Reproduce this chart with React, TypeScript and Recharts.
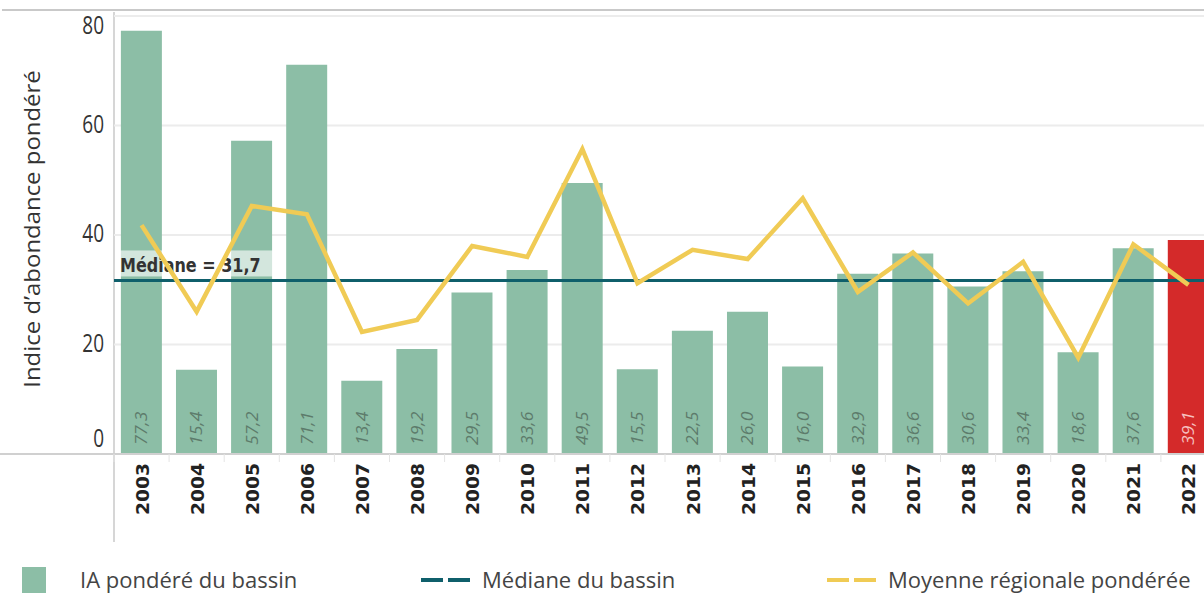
import React from 'react';
import {
  ComposedChart,
  Bar,
  Line,
  Cell,
  XAxis,
  YAxis,
  CartesianGrid,
  ReferenceLine,
  LabelList,
} from 'recharts';

const years = [
  '2003', '2004', '2005', '2006', '2007', '2008', '2009', '2010', '2011', '2012',
  '2013', '2014', '2015', '2016', '2017', '2018', '2019', '2020', '2021', '2022',
];
const iaPondere = [
  77.3, 15.4, 57.2, 71.1, 13.4, 19.2, 29.5, 33.6, 49.5, 15.5,
  22.5, 26.0, 16.0, 32.9, 36.6, 30.6, 33.4, 18.6, 37.6, 39.1,
];
const moyenneRegionale = [
  41.8, 26.0, 45.3, 43.8, 22.3, 24.5, 38.0, 36.0, 55.7, 31.2,
  37.3, 35.6, 46.7, 29.6, 36.8, 27.5, 35.1, 17.6, 38.3, 30.9,
];
const medianeBassin = 31.7;
const yTicks = [0, 20, 40, 60, 80];
const currentYear = '2022';

const GREEN = '#8cbea6';
const RED = '#d42a2a';
const TEAL = '#0f5f6b';
const YELLOW = '#f0cb55';
const FONT = '"Open Sans", sans-serif';
const BOLD_FONT = '"DejaVu Sans", sans-serif';

const data = years.map((year, i) => ({
  year,
  ia: iaPondere[i],
  moyenne: moyenneRegionale[i],
}));

const fmt = (v: number) => v.toFixed(1).replace('.', ',');

const YTick = ({ x, y, payload }: any) => {
  // the outer labels sit inside the plot, as in the original
  let dy = 7;
  if (payload.value === 80) dy = 18;
  if (payload.value === 0) dy = -7;
  return (
    <text
      transform={`translate(${x - 2},${y + dy}) scale(1,1.3)`}
      textAnchor="end"
      fill="#333"
      fontSize={19}
      fontFamily={FONT}
    >
      {payload.value}
    </text>
  );
};

const XTick = ({ x, y, payload, index }: any) => {
  const half = payload.offset ?? 27.5;
  return (
    <g>
      <line x1={x - half} x2={x - half} y1={y - 8} y2={y} stroke="#e4e4e4" strokeWidth={1} />
      {index === years.length - 1 && (
        <line x1={x + half} x2={x + half} y1={y - 8} y2={y} stroke="#e4e4e4" strokeWidth={1} />
      )}
      <text
        transform={`translate(${x + 7},${y + 1}) rotate(-90) scale(1.04,1)`}
        textAnchor="end"
        fill="#222"
        fontSize={18}
        fontWeight="bold"
        fontFamily={BOLD_FONT}
      >
        {payload.value}
      </text>
    </g>
  );
};

const BarValue = (props: any) => {
  const { x, y, width, height, value, index } = props;
  const cx = x + width / 2;
  const by = y + height - 9;
  const isCurrent = years[index] === currentYear;
  return (
    <text
      transform={`translate(${cx + 6},${by}) rotate(-90) scale(1.1,1)`}
      textAnchor="start"
      fill={isCurrent ? '#f6c0c0' : '#5d7b6b'}
      fontSize={16}
      fontStyle="italic"
      fontFamily={FONT}
    >
      {fmt(value)}
    </text>
  );
};

const MedianLabel = ({ viewBox }: any) => {
  const x = viewBox.x + 4;
  const y = viewBox.y;
  return (
    <g>
      <rect x={x} y={y - 30} width={160} height={26} fill="#ffffff" fillOpacity={0.62} />
      <text
        transform={`translate(${x + 2},${y - 8}) scale(1,1.2)`}
        fill="#333"
        fontSize={16}
        fontWeight="bold"
        fontFamily={BOLD_FONT}
      >
        {`Médiane = ${fmt(medianeBassin)}`}
      </text>
    </g>
  );
};

const YTitle = ({ viewBox }: any) => {
  const cx = 40;
  const cy = viewBox.y + viewBox.height / 2 - 6;
  return (
    <text
      transform={`translate(${cx},${cy}) rotate(-90) scale(1.14,1)`}
      textAnchor="middle"
      fill="#333"
      fontSize={21}
      fontFamily={FONT}
    >
      Indice d’abondance pondéré
    </text>
  );
};

const legendItem: React.CSSProperties = {
  position: 'absolute',
  top: 565,
  fontFamily: FONT,
  fontSize: 22,
  color: '#444',
  lineHeight: '28px',
  whiteSpace: 'nowrap',
};

const DashIcon = ({ color }: { color: string }) => (
  <svg width={50} height={10} style={{ position: 'absolute', left: -62, top: 10 }}>
    <line x1={1} x2={50} y1={5} y2={5} stroke={color} strokeWidth={4} strokeDasharray="22 5" />
  </svg>
);

export default function App() {
  return (
    <div
      style={{
        position: 'absolute',
        left: 0,
        top: 0,
        width: 1204,
        height: 594,
        overflow: 'hidden',
        background: '#fff',
      }}
    >
      <div style={{ position: 'absolute', left: 2, top: 9, width: 1202, height: 2, background: '#c9c9c9' }} />
      <div style={{ position: 'absolute', left: 113, top: 12, width: 2, height: 530, background: '#d6d6d6' }} />
      <div style={{ position: 'absolute', left: 0, top: 453, width: 114, height: 2, background: '#d0d0d0' }} />
      <ComposedChart
        width={1240}
        height={594}
        data={data}
        margin={{ top: 16, right: 24, bottom: 0, left: 0 }}
        barCategoryGap="12.5%"
      >
        <CartesianGrid vertical={false} stroke="#ececec" strokeWidth={2} />
        <XAxis
          dataKey="year"
          interval={0}
          height={140}
          axisLine={{ stroke: '#d0d0d0', strokeWidth: 2 }}
          tickLine={false}
          tick={<XTick />}
        />
        <YAxis
          width={114}
          domain={[0, 80]}
          ticks={yTicks}
          axisLine={false}
          tickLine={false}
          tick={<YTick />}
          label={{ content: <YTitle /> }}
        />
        <Bar dataKey="ia" name="IA pondéré du bassin" fill={GREEN} isAnimationActive={false}>
          {data.map((d) => (
            <Cell key={d.year} fill={d.year === currentYear ? RED : GREEN} />
          ))}
          <LabelList dataKey="ia" content={<BarValue />} />
        </Bar>
        <ReferenceLine
          y={medianeBassin}
          stroke={TEAL}
          strokeWidth={3}
          label={{ content: <MedianLabel /> }}
        />
        <Line
          type="linear"
          dataKey="moyenne"
          name="Moyenne régionale pondérée"
          stroke={YELLOW}
          strokeWidth={4.5}
          dot={false}
          activeDot={false}
          isAnimationActive={false}
        />
      </ComposedChart>

      <div style={{ position: 'absolute', left: 22, top: 567, width: 24, height: 26, background: GREEN }} />
      <div style={{ ...legendItem, left: 80 }}>IA pondéré du bassin</div>
      <div style={{ ...legendItem, left: 482 }}>
        <DashIcon color={TEAL} />
        Médiane du bassin
      </div>
      <div style={{ ...legendItem, left: 888 }}>
        <DashIcon color={YELLOW} />
        Moyenne régionale pondérée
      </div>
    </div>
  );
}
